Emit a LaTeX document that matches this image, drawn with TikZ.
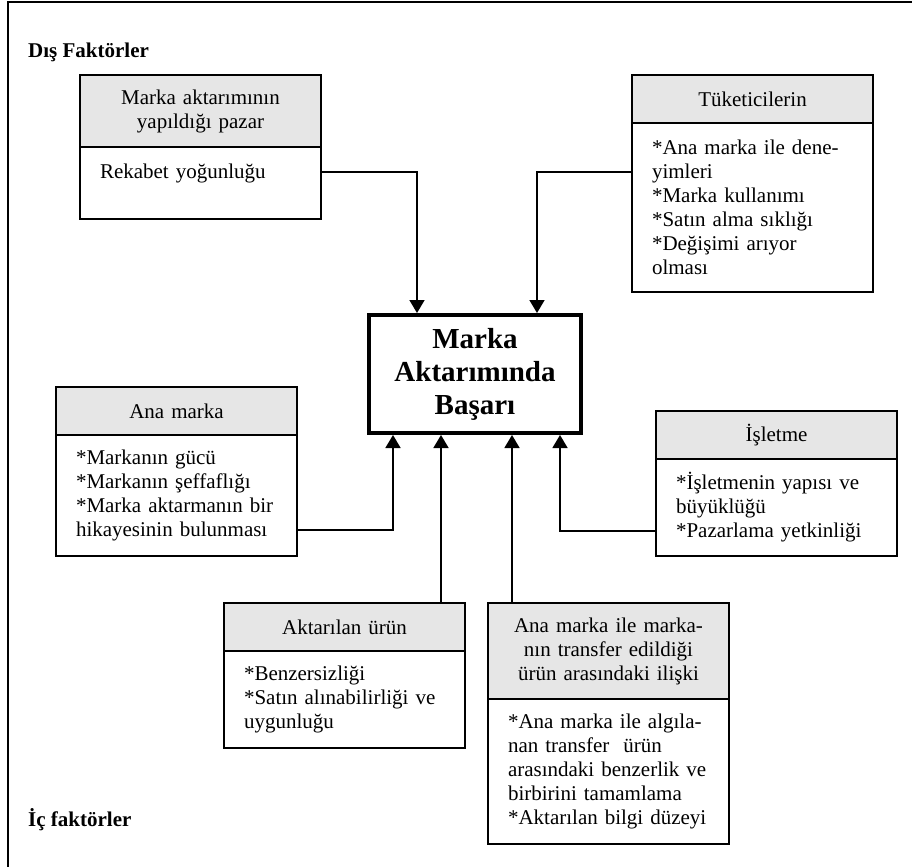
\documentclass[tikz,border=0pt]{standalone}
\usepackage{fontspec}
\setmainfont{Liberation Serif}
\usetikzlibrary{arrows.meta,calc,positioning}
\definecolor{baslikgri}{HTML}{E6E6E6}
\tikzset{
	kutu/.style={draw, line width=1.8pt, outer sep=0pt, minimum width=241pt, text width=201pt, inner xsep=20pt, font=\fontsize{21}{24}\selectfont},
	baslik/.style={kutu, fill=baslikgri, align=center, anchor=north west},
	govde/.style={kutu, align=left},
	ok/.style={line width=1.6pt, -{Triangle[length=13pt,width=15pt]}},
	etiket/.style={anchor=base west, inner sep=0pt, font=\fontsize{21}{24}\selectfont\bfseries}
}

\begin{document}
\begin{tikzpicture}[x=1pt, y=-1pt]
							\useasboundingbox (0,0) rectangle (912,867);
							\draw[line width=1.8pt] (912,2) -- (8,2) -- (8,867);
							
							\node[etiket] (dis) at (28,57) {Dış Faktörler};
							\node[etiket] (ic) at (28,826) {İç faktörler};
							
							\node[draw, line width=4pt, minimum width=212pt, minimum height=118pt, inner sep=4pt, align=center, font=\fontsize{29}{33}\selectfont\bfseries] (merkez) at (475,374) {Marka\\Aktarımında\\Başarı};
							
							\node[baslik, minimum height=72pt] (pazarH) at (80,75) {Marka aktarımının\\yapıldığı pazar};
							\node[govde, minimum height=72pt, below=0pt of pazarH] (pazarB) {Rekabet yoğunluğu\\~};
							
							\node[baslik, minimum height=48pt] (tuketiciH) at (632,75) {Tüketicilerin};
							\node[govde, minimum height=169pt, below=0pt of tuketiciH] (tuketiciB) {*Ana marka ile dene-\\yimleri\\{}*Marka kullanımı\\{}*Satın alma sıklığı\\{}*Değişimi arıyor\\olması};
							
							\node[baslik, minimum height=48pt] (anaH) at (56,387) {Ana marka};
							\node[govde, minimum height=121pt, below=0pt of anaH] (anaB) {*Markanın gücü\\{}*Markanın şeffaflığı\\{}*Marka aktarmanın bir\\hikayesinin bulunması};
							
							\node[baslik, minimum height=48pt] (isletmeH) at (656,411) {İşletme};
							\node[govde, minimum height=97pt, below=0pt of isletmeH] (isletmeB) {*İşletmenin yapısı ve\\büyüklüğü\\{}*Pazarlama yetkinliği};
							
							\node[baslik, minimum height=48pt] (aktarilanH) at (224,603) {Aktarılan ürün};
							\node[govde, minimum height=97pt, below=0pt of aktarilanH] (aktarilanB) {*Benzersizliği\\{}*Satın alınabilirliği ve\\uygunluğu};
							
							\node[baslik, minimum height=96pt] (iliskiH) at (488,603) {Ana marka ile marka-\\nın transfer edildiği\\ürün arasındaki ilişki};
							\node[govde, minimum height=145pt, below=0pt of iliskiH] (iliskiB) {*Ana marka ile algıla-\\nan transfer\ \ ürün\\arasındaki benzerlik ve\\birbirini tamamlama\\{}*Aktarılan bilgi düzeyi};
							
							\draw[ok] ($(pazarB.north east)+(0,25)$) -| ($(merkez.north)+(-58,0)$);
							\draw[ok] ($(tuketiciB.north west)+(0,49)$) -| ($(merkez.north)+(62,0)$);
							\draw[ok] ($(anaB.south east)+(0,-26)$) -| ($(merkez.south)+(-82,0)$);
							\draw[ok] ($(isletmeB.south west)+(0,-25)$) -| ($(merkez.south)+(85,0)$);
							
							\coordinate (aktarilanUc) at ($(merkez.south)+(-34,0)$);
							\coordinate (iliskiUc) at ($(merkez.south)+(37,0)$);
							\draw[ok] (aktarilanUc |- aktarilanH.north) -- (aktarilanUc);
							\draw[ok] (iliskiUc |- iliskiH.north) -- (iliskiUc);
						\end{tikzpicture}
\end{document}
